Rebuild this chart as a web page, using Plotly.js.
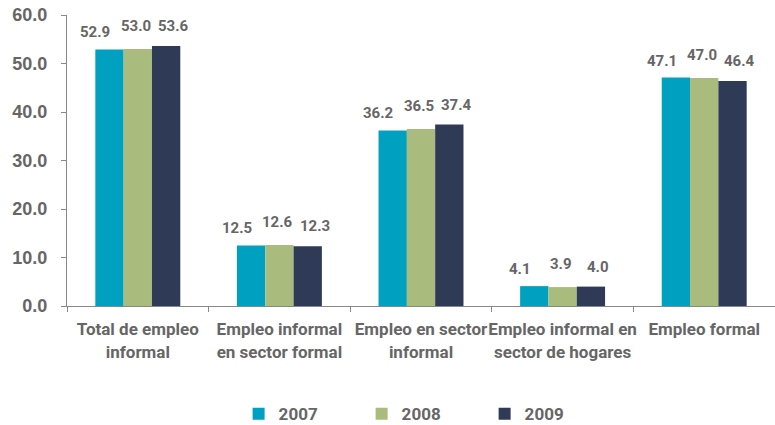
<!DOCTYPE html>
<html>
<head>
<meta charset="utf-8">
<script src="https://cdn.plot.ly/plotly-3.0.1.min.js"></script>
<style>
  html, body { margin: 0; padding: 0; background: #fff; }
  #chart { width: 775px; height: 425px; }
</style>
</head>
<body>
<div id="chart"></div>
<script>
// Categories and yearly shares (%)
const categories = [
    'Total de empleo<br>informal',
    'Empleo informal<br>en sector formal',
    'Empleo en sector<br>informal',
    'Empleo informal en<br>sector de hogares',
    'Empleo formal'
];
const years = ['2007', '2008', '2009'];
const values2007 = [52.9, 12.5, 36.2, 4.1, 47.1];
const values2008 = [53.0, 12.6, 36.5, 3.9, 47.0];
const values2009 = [53.6, 12.3, 37.4, 4.0, 46.4];
const colors = ['#00A0C1', '#AABC7D', '#2F3A57'];

const font = "Roboto, 'Liberation Sans', Arial, sans-serif";
const grey = '#666666';

const series = [values2007, values2008, values2009];
const data = series.map((vals, i) => ({
    type: 'bar',
    name: years[i],
    x: categories,
    y: vals,
    marker: { color: colors[i] },
    hoverinfo: 'x+y+name'
}));

// value labels: staggered like the original, placed via annotations
const barPx = 28.5;
const labelDx = [-14, -2, 7];
const labelDy = [6, 12, 9];
const annotations = [];
series.forEach((vals, i) => {
    vals.forEach((v, j) => {
        annotations.push({
            x: categories[j],
            y: v,
            xref: 'x',
            yref: 'y',
            text: v.toFixed(1),
            showarrow: false,
            yanchor: 'bottom',
            xanchor: 'center',
            xshift: (i - 1) * barPx + labelDx[i],
            yshift: labelDy[i],
            font: { family: font, size: 15, color: grey, weight: 'bold' }
        });
    });
});

const layout = {
    width: 775,
    height: 425,
    margin: { l: 67, r: 0, t: 15, b: 119, autoexpand: false },
    paper_bgcolor: '#ffffff',
    plot_bgcolor: '#ffffff',
    barmode: 'group',
    bargap: 0.4,
    bargroupgap: 0,
    showlegend: true,
    legend: {
        orientation: 'h',
        x: 0.503,
        xanchor: 'center',
        y: -0.31,
        yanchor: 'top',
        font: { family: font, size: 17, color: grey, weight: 'bold' },
        entrywidth: 78,
        entrywidthmode: 'pixels',
        traceorder: 'normal'
    },
    annotations: annotations,
    xaxis: {
        showline: true,
        linecolor: '#888888',
        linewidth: 1,
        ticks: 'outside',
        tickson: 'boundaries',
        ticklen: 5,
        tickcolor: '#888888',
        tickangle: 0,
        ticklabelstandoff: 8,
        tickfont: { family: font, size: 17, color: grey, weight: 'bold' },
        showgrid: false,
        zeroline: false
    },
    yaxis: {
        range: [0, 60],
        dtick: 10,
        tickformat: '.1f',
        showline: true,
        linecolor: '#888888',
        linewidth: 1,
        ticks: 'outside',
        ticklen: 5,
        tickcolor: '#888888',
        ticklabelstandoff: 10,
        tickfont: { family: "'Liberation Sans', Arial, sans-serif", size: 18, color: grey, weight: 'bold' },
        showgrid: false,
        zeroline: false
    }
};

Plotly.newPlot('chart', data, layout, { displayModeBar: false, responsive: false });
</script>
</body>
</html>
